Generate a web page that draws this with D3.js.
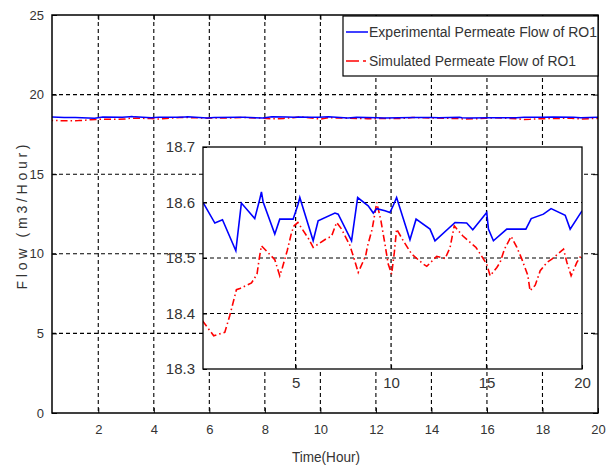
<!DOCTYPE html>
<html>
<head>
<meta charset="utf-8">
<script src="https://cdn.jsdelivr.net/npm/d3@7"></script>
<style>
  body { margin: 0; background: #fff; }
  text { font-family: "Liberation Sans Narrow", "Arial Narrow", "Liberation Sans", Arial, sans-serif; fill: #333; }
</style>
</head>
<body>
<svg width="613" height="472"></svg>
<script>
const svg = d3.select("svg");

// Experimental permeate flow (blue)
const expTime = [0.15, 0.77, 1.17, 1.87, 2.16, 2.86, 3.13, 3.21, 3.3, 3.91, 4.17, 4.87, 5.13, 5.22, 5.92, 6.18, 7.06, 7.23,
    7.93, 8.25, 8.8, 9.07, 9.25, 9.68, 9.94, 10.12, 10.29, 10.99, 11.31, 12.04, 12.3, 13.35, 13.96, 14.28, 15.01, 15.1,
    15.36, 16.06, 17.06, 17.34, 17.98, 18.38, 19.12, 19.38, 20];
const expFlow = [18.6, 18.563, 18.569, 18.513, 18.599, 18.571, 18.607, 18.619, 18.601, 18.543, 18.57, 18.57, 18.597, 18.609,
    18.531, 18.567, 18.581, 18.579, 18.531, 18.609, 18.594, 18.581, 18.589, 18.585, 18.582, 18.595, 18.609, 18.533, 18.57,
    18.552, 18.531, 18.564, 18.563, 18.551, 18.582, 18.552, 18.531, 18.552, 18.552, 18.571, 18.579, 18.589, 18.577, 18.552, 18.585];

// Simulated permeate flow (red dash-dot)
const simTime = [0.12, 0.71, 1.29, 1.55, 1.73, 1.9, 2.08, 2.69, 2.98, 3.09, 3.21, 3.91, 4.17, 4.31, 4.56, 4.79, 4.92, 5.12,
    5.69, 5.92, 6.62, 6.88, 7.15, 7.41, 7.84, 8.07, 8.28, 8.67, 8.77, 9.01, 9.25, 9.47, 9.68, 9.85, 10.03, 10.17, 10.29,
    10.64, 11.08, 11.69, 11.87, 12.39, 12.83, 13.09, 13.31, 13.75, 14.45, 15.01, 15.19, 15.54, 15.71, 15.94, 16.29, 16.59,
    16.85, 17.16, 17.28, 17.55, 17.81, 18.16, 18.42, 19.03, 19.21, 19.43, 19.73, 20];
const simFlow = [18.387, 18.36, 18.366, 18.396, 18.42, 18.443, 18.445, 18.455, 18.471, 18.498, 18.522, 18.497, 18.468, 18.483,
    18.513, 18.546, 18.558, 18.564, 18.534, 18.519, 18.535, 18.539, 18.564, 18.552, 18.523, 18.498, 18.474, 18.504, 18.522,
    18.552, 18.6, 18.567, 18.525, 18.489, 18.471, 18.51, 18.552, 18.531, 18.507, 18.489, 18.485, 18.503, 18.499, 18.519,
    18.558, 18.54, 18.519, 18.489, 18.468, 18.483, 18.492, 18.516, 18.539, 18.519, 18.498, 18.469, 18.441, 18.451, 18.477,
    18.492, 18.498, 18.516, 18.492, 18.468, 18.492, 18.507];

const xTicks = [2, 4, 6, 8, 10, 12, 14, 16, 18, 20];
const yTicks = [0, 5, 10, 15, 20, 25];
const insetXTicks = [5, 10, 15, 20];
const insetYTicks = [18.3, 18.4, 18.5, 18.6, 18.7];
const legendLabels = ["Experimental Permeate Flow of RO1", "Simulated Permeate Flow of RO1"];

const expData = expTime.map((t, i) => ({ t: t, v: expFlow[i] }));
const simData = simTime.map((t, i) => ({ t: t, v: simFlow[i] }));

const dashGrid = "4,3";
const simDash = "7,3,1.5,3";

// ---- main axes ----
const x = d3.scaleLinear().domain([1 / 3, 20]).range([52, 598]);
const y = d3.scaleLinear().domain([0, 25]).range([413, 15]);

svg.append("clipPath").attr("id", "clipMain")
    .append("rect").attr("x", 52).attr("y", 15).attr("width", 546).attr("height", 398);

// grid
svg.append("g").selectAll("line").data(xTicks.filter(d => d < 20))
    .join("line")
    .attr("x1", d => x(d)).attr("x2", d => x(d))
    .attr("y1", y(25)).attr("y2", y(0))
    .attr("stroke", "#000").attr("stroke-width", 1.1).attr("stroke-dasharray", dashGrid);
svg.append("g").selectAll("line").data(yTicks.filter(d => d > 0 && d < 25))
    .join("line")
    .attr("x1", x.range()[0]).attr("x2", x.range()[1])
    .attr("y1", d => y(d)).attr("y2", d => y(d))
    .attr("stroke", "#000").attr("stroke-width", 1.1).attr("stroke-dasharray", dashGrid);

const line = (xs, ys) => d3.line().x(d => xs(d.t)).y(d => ys(d.v));

const mainG = svg.append("g").attr("clip-path", "url(#clipMain)");
mainG.append("path").datum(simData)
    .attr("d", line(x, y)).attr("fill", "none")
    .attr("stroke", "#ff0000").attr("stroke-width", 1.5).attr("stroke-dasharray", simDash);
mainG.append("path").datum(expData)
    .attr("d", line(x, y)).attr("fill", "none")
    .attr("stroke", "#0000ff").attr("stroke-width", 1.5);

// axes (ticks inside, box)
svg.append("g").attr("transform", `translate(0,${y(0)})`)
    .call(d3.axisBottom(x).tickValues(xTicks).tickSizeInner(-5).tickSizeOuter(0).tickPadding(12))
    .call(g => g.select(".domain").remove());
svg.append("g").attr("transform", `translate(${x.range()[0]},0)`)
    .call(d3.axisLeft(y).tickValues(yTicks).tickSizeInner(-5).tickSizeOuter(0).tickPadding(8))
    .call(g => g.select(".domain").remove());
svg.append("g").attr("transform", `translate(${x.range()[1]},0)`)
    .call(d3.axisRight(y).tickValues(yTicks).tickSizeInner(-5).tickSizeOuter(0).tickFormat(""))
    .call(g => g.select(".domain").remove());
svg.append("g").attr("transform", `translate(0,${y(25)})`)
    .call(d3.axisTop(x).tickValues(xTicks).tickSizeInner(-5).tickSizeOuter(0).tickFormat(""))
    .call(g => g.select(".domain").remove());
svg.selectAll(".tick text").attr("font-size", 13).attr("fill", "#444")
    .style("font-family", "\"Liberation Sans Narrow\", \"Liberation Sans\", Arial, sans-serif");
svg.selectAll(".tick line").attr("stroke", "#000");

svg.append("rect").attr("x", 52).attr("y", 15).attr("width", 546).attr("height", 398)
    .attr("fill", "none").attr("stroke", "#000").attr("stroke-width", 1.5);

// axis titles
svg.append("text").attr("x", 326).attr("y", 462).attr("text-anchor", "middle")
    .attr("font-size", 14).attr("textLength", 68).attr("lengthAdjust", "spacingAndGlyphs")
    .text("Time(Hour)");
svg.append("text").attr("transform", "translate(27,217) rotate(-90)").attr("text-anchor", "middle")
    .attr("font-size", 14).attr("textLength", 145).attr("lengthAdjust", "spacing")
    .text("Flow (m3/Hour)");

// ---- legend ----
const legend = svg.append("g");
legend.append("rect").attr("x", 343).attr("y", 16).attr("width", 255).attr("height", 60)
    .attr("fill", "#fff").attr("stroke", "#000").attr("stroke-width", 1.2);
const legendColors = ["#0000ff", "#ff0000"];
const legendDash = [null, "13,4,3,4"];
const legendWidths = [228, 207];
legendLabels.forEach((lab, i) => {
    const ly = 32 + i * 29;
    legend.append("line").attr("x1", 346).attr("x2", 368).attr("y1", ly).attr("y2", ly)
        .attr("stroke", legendColors[i]).attr("stroke-width", 1.5)
        .attr("stroke-dasharray", legendDash[i]);
    legend.append("text").attr("x", 369).attr("y", ly + 5).attr("font-size", 14)
        .attr("fill", "#222").attr("textLength", legendWidths[i]).attr("lengthAdjust", "spacingAndGlyphs")
        .text(lab);
});

// ---- inset ----
const ix = d3.scaleLinear().domain([0.15, 20]).range([203, 582]);
const iy = d3.scaleLinear().domain([18.3, 18.7]).range([369, 147]);

svg.append("clipPath").attr("id", "clipInset")
    .append("rect").attr("x", 203).attr("y", 147).attr("width", 379).attr("height", 222);

const inset = svg.append("g");
inset.append("rect").attr("x", 203).attr("y", 147).attr("width", 379).attr("height", 222).attr("fill", "#fff");

inset.append("g").selectAll("line").data(insetXTicks.filter(d => d < 20))
    .join("line")
    .attr("x1", d => ix(d)).attr("x2", d => ix(d))
    .attr("y1", iy(18.7)).attr("y2", iy(18.3))
    .attr("stroke", "#000").attr("stroke-width", 1.2).attr("stroke-dasharray", dashGrid);
inset.append("g").selectAll("line").data(insetYTicks.filter(d => d > 18.3 && d < 18.7))
    .join("line")
    .attr("x1", ix.range()[0]).attr("x2", ix.range()[1])
    .attr("y1", d => iy(d)).attr("y2", d => iy(d))
    .attr("stroke", "#000").attr("stroke-width", 1.2).attr("stroke-dasharray", dashGrid);

const insetLines = inset.append("g").attr("clip-path", "url(#clipInset)");
insetLines.append("path").datum(simData)
    .attr("d", line(ix, iy)).attr("fill", "none")
    .attr("stroke", "#ff0000").attr("stroke-width", 1.6).attr("stroke-dasharray", simDash);
insetLines.append("path").datum(expData)
    .attr("d", line(ix, iy)).attr("fill", "none")
    .attr("stroke", "#0000ff").attr("stroke-width", 1.6);

inset.append("g").attr("transform", `translate(0,${iy(18.3)})`)
    .call(d3.axisBottom(ix).tickValues(insetXTicks).tickSizeInner(-4).tickSizeOuter(0).tickPadding(8))
    .call(g => g.select(".domain").remove())
    .call(g => g.selectAll("text").attr("font-size", 15));
inset.append("g").attr("transform", `translate(${ix.range()[0]},0)`)
    .call(d3.axisLeft(iy).tickValues(insetYTicks).tickFormat(d3.format(".1f")).tickSizeInner(-4).tickSizeOuter(0).tickPadding(8))
    .call(g => g.select(".domain").remove())
    .call(g => g.selectAll("text").attr("font-size", 15));
inset.selectAll(".tick text").attr("fill", "#444")
    .style("font-family", "\"Liberation Sans Narrow\", \"Liberation Sans\", Arial, sans-serif");
inset.selectAll(".tick line").attr("stroke", "#000");

inset.append("rect").attr("x", 203).attr("y", 147).attr("width", 379).attr("height", 222)
    .attr("fill", "none").attr("stroke", "#000").attr("stroke-width", 1.3);
</script>
</body>
</html>
